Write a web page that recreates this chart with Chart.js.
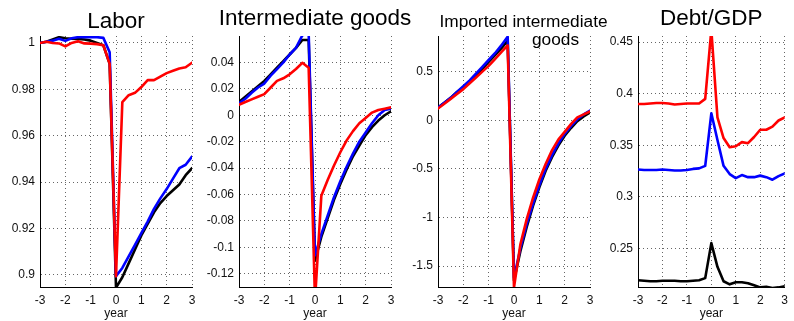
<!DOCTYPE html>
<html>
<head>
<meta charset="utf-8">
<script src="https://cdn.jsdelivr.net/npm/chart.js@4/dist/chart.umd.min.js"></script>
<style>
html,body{margin:0;padding:0;background:#fff;overflow:hidden;}
#wrap{position:relative;width:794px;height:321px;}
canvas{position:absolute;top:0;left:0;}
</style>
</head>
<body>
<div id="wrap">
<canvas id="c1" width="794" height="321"></canvas>
<canvas id="c2" width="794" height="321"></canvas>
<canvas id="c3" width="794" height="321"></canvas>
<canvas id="c4" width="794" height="321"></canvas>
</div>
<script>
// ---- data (quarterly, years relative to shock) ----
const years = [-3,-2.75,-2.5,-2.25,-2,-1.75,-1.5,-1.25,-1,-0.75,-0.5,-0.25,0,0.25,0.5,0.75,1,1.25,1.5,1.75,2,2.25,2.5,2.75,3];
const xTicks = [-3,-2,-1,0,1,2,3];

const laborBlack = [1.000,1.0005,1.0015,1.0025,1.002,1.0018,1.0017,1.0015,1.001,1.000,0.999,0.991,0.8945,0.899,0.905,0.911,0.917,0.922,0.927,0.931,0.934,0.9365,0.939,0.943,0.946];
const laborBlue  = [1.000,1.0005,1.001,1.0018,1.0009,1.002,1.0025,1.0025,1.0025,1.0025,1.0022,0.996,0.8995,0.903,0.908,0.913,0.918,0.923,0.9285,0.933,0.937,0.9415,0.946,0.9475,0.951];
const laborRed   = [1.000,1.0005,1.000,0.9998,0.9985,1.000,1.0007,0.9998,0.9997,0.9995,0.999,0.991,0.8995,0.9745,0.9775,0.9785,0.981,0.984,0.984,0.9855,0.987,0.988,0.989,0.9895,0.9915];
const laborTicks = [0.9,0.92,0.94,0.96,0.98,1];

const interBlack = [0.010,0.014,0.018,0.022,0.026,0.031,0.036,0.041,0.046,0.051,0.057,0.057,-0.110,-0.092,-0.078,-0.064,-0.052,-0.041,-0.031,-0.023,-0.015,-0.009,-0.004,0.000,0.003];
const interBlue  = [0.009,0.0125,0.017,0.021,0.024,0.030,0.035,0.040,0.046,0.051,0.0605,0.062,-0.106,-0.090,-0.076,-0.062,-0.050,-0.039,-0.029,-0.020,-0.013,-0.006,0.000,0.004,0.005];
const interRed   = [0.008,0.010,0.012,0.014,0.016,0.021,0.026,0.028,0.031,0.035,0.0397,0.036,-0.140,-0.061,-0.049,-0.038,-0.028,-0.019,-0.012,-0.006,-0.002,0.002,0.004,0.005,0.006];
const interTicks = [-0.12,-0.1,-0.08,-0.06,-0.04,-0.02,0,0.02,0.04];

const impBlack = [0.13,0.18,0.23,0.29,0.34,0.40,0.46,0.53,0.60,0.67,0.74,0.82,-1.65,-1.35,-1.10,-0.88,-0.69,-0.52,-0.38,-0.26,-0.16,-0.08,-0.01,0.04,0.08];
const impBlue  = [0.13,0.18,0.23,0.29,0.35,0.41,0.48,0.55,0.62,0.69,0.77,0.86,-1.62,-1.32,-1.07,-0.86,-0.67,-0.50,-0.36,-0.24,-0.14,-0.06,0.01,0.06,0.10];
const impRed   = [0.12,0.17,0.22,0.27,0.32,0.38,0.44,0.50,0.56,0.63,0.70,0.77,-1.72,-1.28,-1.02,-0.80,-0.61,-0.45,-0.31,-0.20,-0.12,-0.04,0.03,0.06,0.09];
const impTicks = [-1.5,-1,-0.5,0,0.5];

const debtBlack = [0.219,0.2185,0.218,0.218,0.2185,0.2185,0.2185,0.218,0.218,0.2185,0.219,0.221,0.255,0.232,0.218,0.215,0.217,0.217,0.216,0.214,0.212,0.2125,0.2115,0.212,0.213];
const debtBlue  = [0.3265,0.326,0.326,0.326,0.3265,0.326,0.3255,0.3255,0.326,0.327,0.3275,0.330,0.381,0.355,0.330,0.322,0.318,0.321,0.319,0.319,0.3205,0.319,0.3165,0.320,0.3225];
const debtRed   = [0.390,0.390,0.3905,0.391,0.391,0.3905,0.3895,0.390,0.3905,0.3905,0.3905,0.395,0.462,0.377,0.357,0.348,0.349,0.353,0.352,0.358,0.365,0.365,0.368,0.374,0.377];
const debtTicks = [0.25,0.3,0.35,0.4,0.45];

// ---- drawing ----
const FONT = "'Liberation Sans', Arial, Helvetica, sans-serif";
function pts(ys){ return ys.map((y,i)=>({x:years[i], y:y})); }
function fmt(v){ return String(Math.round(v*1e6)/1e6); }

const titlePlugin = {
  id:'panelTitle',
  afterDraw(chart){
    const lines = chart.options.plugins.panelTitle.lines;
    const ctx = chart.ctx; const ca = chart.chartArea;
    const cx = (ca.left+ca.right)/2;
    ctx.save();
    ctx.fillStyle = '#000';
    ctx.textAlign = 'center';
    ctx.textBaseline = 'alphabetic';
    lines.forEach(l=>{
      ctx.font = l.size + 'px ' + FONT;
      ctx.fillText(l.text, cx + (l.dx||0), l.y);
    });
    ctx.restore();
  }
};

function makePanel(id, blk, blu, red, yTicks, ymin, ymax, titleLines, plotLeft, plotRight){
  new Chart(document.getElementById(id), {
    type:'line',
    data:{datasets:[
      {data:pts(red), borderColor:'#ff0000'},
      {data:pts(blu), borderColor:'#0000ff'},
      {data:pts(blk), borderColor:'#000000'}
    ]},
    options:{
      responsive:false, animation:false, devicePixelRatio:1,
      elements:{line:{borderWidth:2.6, tension:0, borderJoinStyle:'round', borderCapStyle:'round'}, point:{radius:0, hoverRadius:0}},
      layout:{padding:{left:plotLeft-40, right:794-plotRight, top:36, bottom:0}},
      plugins:{legend:{display:false}, tooltip:{enabled:false}, title:{display:false},
        panelTitle:{lines:titleLines}},
      events:[],
      scales:{
        x:{type:'linear', min:-3, max:3,
          afterBuildTicks(s){ s.ticks = xTicks.map(v=>({value:v})); },
          afterFit(s){ s.height = 34; },
          grid:{color:'rgba(0,0,0,0.6)', lineWidth:1, drawTicks:false},
          border:{display:true, color:'#000', width:1, dash:[1,3]},
          ticks:{padding:6, color:'#111', font:{family:FONT, size:12}, maxRotation:0, callback:v=>fmt(v)},
          title:{display:true, text:'year', color:'#111', font:{family:FONT, size:12}, padding:{top:0,bottom:0}}
        },
        y:{type:'linear', min:ymin, max:ymax,
          afterBuildTicks(s){ s.ticks = yTicks.map(v=>({value:v})); },
          afterFit(s){ s.width = 40; },
          grid:{color:'rgba(0,0,0,0.6)', lineWidth:1, drawTicks:false},
          border:{display:true, color:'#000', width:1, dash:[1,3]},
          ticks:{padding:5, color:'#111', font:{family:FONT, size:12}, callback:v=>fmt(v)}
        }
      }
    },
    plugins:[titlePlugin]
  });
}

makePanel('c1', laborBlack, laborBlue, laborRed, laborTicks, 0.8948, 1.003,
  [{text:'Labor', size:22.5, y:28}], 40, 192);
makePanel('c2', interBlack, interBlue, interRed, interTicks, -0.13, 0.06,
  [{text:'Intermediate goods', size:22.5, y:25}], 239, 391);
makePanel('c3', impBlack, impBlue, impRed, impTicks, -1.716, 0.867,
  [{text:'Imported intermediate', size:17.3, y:27, dx:9.5},{text:'goods', size:17.3, y:45, dx:41.5}], 438, 590);
makePanel('c4', debtBlack, debtBlue, debtRed, debtTicks, 0.2124, 0.456,
  [{text:'Debt/GDP', size:22.5, y:25}], 638, 789);
</script>
</body>
</html>
